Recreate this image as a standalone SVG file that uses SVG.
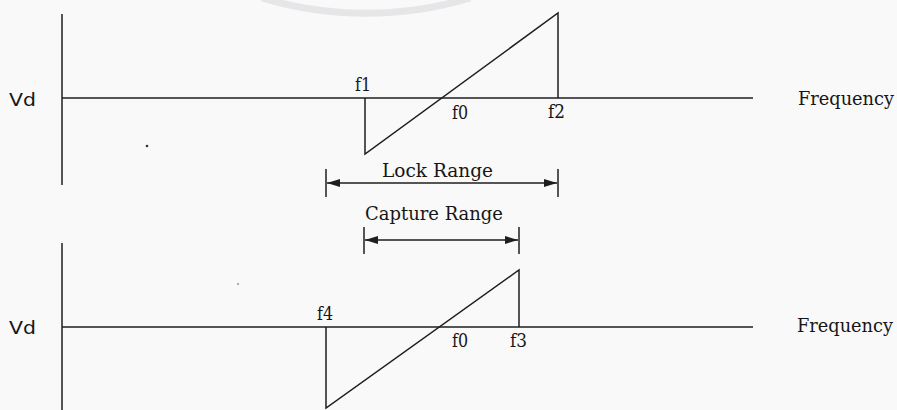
<svg xmlns="http://www.w3.org/2000/svg" width="897" height="410" viewBox="0 0 897 410">
  <defs>
    <style>
      .ln { stroke: #1e1e1e; stroke-width: 1.5; fill: none; }
      .ser { font-family: "DejaVu Serif", "Liberation Serif", serif; font-size: 18px; fill: #161616; }
      .san { font-family: "DejaVu Sans", "Liberation Sans", sans-serif; font-size: 18px; fill: #161616; }
    </style>
    <marker id="ah" viewBox="0 0 13 8" refX="13" refY="4" markerWidth="13" markerHeight="8" markerUnits="userSpaceOnUse" orient="auto-start-reverse">
      <path d="M0,0 L13,4 L0,8 Z" fill="#1e1e1e"/>
    </marker>
  </defs>

  <rect width="897" height="410" fill="#f9f9fa"/>
  <path d="M262,-2 A360,360 0 0 0 470,-2" fill="none" stroke="#e6e6e8" stroke-width="7"/>
  <circle cx="147" cy="146" r="1.3" fill="#333"/>
  <circle cx="238" cy="284" r="0.9" fill="#888"/>

  <g id="top-plot">
    <line class="ln" x1="62" y1="14" x2="62" y2="185"/>
    <line class="ln" x1="62" y1="98" x2="753" y2="98"/>
    <polyline class="ln" points="365,98 365,154 558,13 558,98"/>
    <text class="san" x="9" y="106" textLength="27" lengthAdjust="spacingAndGlyphs">Vd</text>
    <text class="ser" x="355" y="91" textLength="16" lengthAdjust="spacingAndGlyphs">f1</text>
    <text class="ser" x="452" y="119" textLength="16" lengthAdjust="spacingAndGlyphs">f0</text>
    <text class="ser" x="548" y="118" textLength="17" lengthAdjust="spacingAndGlyphs">f2</text>
    <text class="ser" x="798" y="105" textLength="96" lengthAdjust="spacingAndGlyphs">Frequency</text>
  </g>

  <g id="bottom-plot">
    <line class="ln" x1="62" y1="243" x2="62" y2="410"/>
    <line class="ln" x1="62" y1="327" x2="753" y2="327"/>
    <polyline class="ln" points="326,327 326,408 519,270 519,327"/>
    <text class="san" x="9" y="334" textLength="27" lengthAdjust="spacingAndGlyphs">Vd</text>
    <text class="ser" x="317" y="320" textLength="16" lengthAdjust="spacingAndGlyphs">f4</text>
    <text class="ser" x="452" y="347" textLength="16" lengthAdjust="spacingAndGlyphs">f0</text>
    <text class="ser" x="510" y="347" textLength="17" lengthAdjust="spacingAndGlyphs">f3</text>
    <text class="ser" x="797" y="332" textLength="96" lengthAdjust="spacingAndGlyphs">Frequency</text>
  </g>

  <g id="lock-range">
    <text class="ser" x="382" y="177" textLength="111" lengthAdjust="spacingAndGlyphs">Lock Range</text>
  </g>
  <g id="capture-range">
    <text class="ser" x="365" y="220" textLength="138" lengthAdjust="spacingAndGlyphs">Capture Range</text>
  </g>

  <g id="connectors">
    <line class="ln" x1="326" y1="169" x2="326" y2="197"/>
    <line class="ln" x1="558" y1="169" x2="558" y2="197"/>
    <line class="ln" x1="327" y1="183" x2="557" y2="183" marker-start="url(#ah)" marker-end="url(#ah)"/>
    <line class="ln" x1="364" y1="227" x2="364" y2="254"/>
    <line class="ln" x1="519" y1="227" x2="519" y2="254"/>
    <line class="ln" x1="365" y1="240" x2="518" y2="240" marker-start="url(#ah)" marker-end="url(#ah)"/>
  </g>
</svg>
